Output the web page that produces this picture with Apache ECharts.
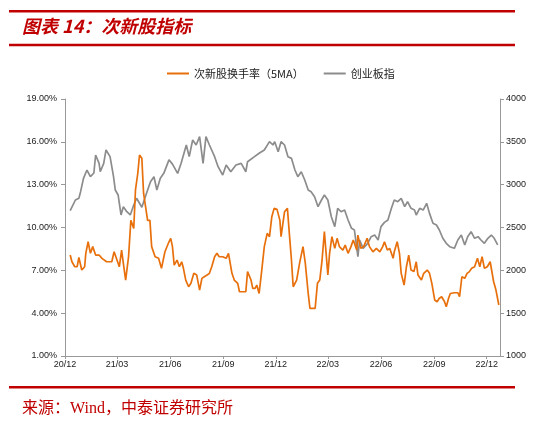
<!DOCTYPE html>
<html>
<head>
<meta charset="utf-8">
<script src="https://cdn.jsdelivr.net/npm/echarts@6/dist/echarts.min.js"></script>
<style>
html,body{margin:0;padding:0;background:#fff;}
#chart{width:550px;height:426px;}
</style>
</head>
<body>
<div id="chart"></div>
<script>
// ---- data ----
const seriesNames = ['次新股换手率（5MA）', '创业板指'];
const tickDates = ['2020/12/01','2021/03/01','2021/06/01','2021/09/01','2021/12/01','2022/03/01','2022/06/01','2022/09/01','2022/12/01'];
const tickLabels = ['20/12','21/03','21/06','21/09','21/12','22/03','22/06','22/09','22/12'];
const leftTicks = [1, 4, 7, 10, 13, 16, 19];
const rightTicks = [1000, 1500, 2000, 2500, 3000, 3500, 4000];

const turnoverDates = [
'2020-12-10','2020-12-13','2020-12-18','2020-12-22','2020-12-25','2020-12-28','2020-12-30',
'2021-01-04','2021-01-06','2021-01-10','2021-01-14','2021-01-18','2021-01-23','2021-01-29',
'2021-02-03','2021-02-11','2021-02-20','2021-02-24','2021-03-01','2021-03-05','2021-03-09',
'2021-03-12','2021-03-16','2021-03-21','2021-03-25','2021-03-30','2021-04-02','2021-04-06',
'2021-04-09','2021-04-13','2021-04-16','2021-04-19','2021-04-23','2021-04-27','2021-04-30',
'2021-05-06','2021-05-12','2021-05-17','2021-05-23','2021-05-30','2021-06-02','2021-06-05',
'2021-06-08','2021-06-13','2021-06-17','2021-06-21','2021-06-24','2021-06-28','2021-07-03',
'2021-07-07','2021-07-12','2021-07-17','2021-07-22','2021-07-26','2021-07-30','2021-08-04',
'2021-08-08','2021-08-12','2021-08-17','2021-08-21','2021-08-25','2021-08-31','2021-09-06',
'2021-09-10','2021-09-13','2021-09-16','2021-09-20','2021-09-26','2021-09-29','2021-10-04',
'2021-10-10','2021-10-13','2021-10-16','2021-10-19','2021-10-22','2021-10-26','2021-10-29',
'2021-11-02','2021-11-06','2021-11-11','2021-11-16','2021-11-20','2021-11-24','2021-11-28',
'2021-12-03','2021-12-05','2021-12-08','2021-12-10','2021-12-13','2021-12-16','2021-12-21',
'2021-12-25','2021-12-28','2021-12-31','2022-01-06','2022-01-11','2022-01-17','2022-01-21',
'2022-01-26','2022-01-29','2022-02-03','2022-02-07','2022-02-11','2022-02-15','2022-02-19',
'2022-02-23','2022-03-01','2022-03-04','2022-03-08','2022-03-13','2022-03-17','2022-03-21',
'2022-03-27','2022-03-31','2022-04-05','2022-04-10','2022-04-14','2022-04-20','2022-04-22',
'2022-04-27','2022-05-02','2022-05-08','2022-05-12','2022-05-18','2022-05-24','2022-05-30',
'2022-06-04','2022-06-07','2022-06-12','2022-06-16','2022-06-19','2022-06-22','2022-06-24',
'2022-06-29','2022-07-03','2022-07-06','2022-07-11','2022-07-15','2022-07-19','2022-07-23',
'2022-07-28','2022-08-01','2022-08-04','2022-08-10','2022-08-14','2022-08-20','2022-08-24',
'2022-08-28','2022-09-02','2022-09-06','2022-09-10','2022-09-14','2022-09-19','2022-09-22',
'2022-09-26','2022-09-29','2022-10-06','2022-10-12','2022-10-15','2022-10-19','2022-10-24',
'2022-10-28','2022-11-01','2022-11-05','2022-11-10','2022-11-15','2022-11-19','2022-11-23',
'2022-11-27','2022-12-02','2022-12-07','2022-12-10','2022-12-13','2022-12-17','2022-12-22'
];
const turnoverValues = [
8.07,7.60,7.25,7.25,7.90,7.95,7.02,
7.25,8.19,9.00,8.19,8.66,8.07,8.07,
7.84,7.60,7.60,8.30,7.72,7.25,8.42,
7.49,6.32,7.95,10.50,9.94,12.63,13.80,
15.08,14.85,12.40,11.58,10.50,10.50,8.66,
7.95,7.84,7.14,8.30,9.00,9.24,8.66,
7.37,7.72,7.25,7.60,7.14,6.32,5.85,
6.09,6.79,6.67,5.62,6.44,6.55,6.67,
6.79,7.25,7.95,8.19,7.95,7.95,7.84,
8.19,8.19,6.79,6.32,6.09,5.50,5.50,
5.50,6.91,7.02,6.32,5.74,5.74,5.97,
5.38,6.79,8.66,9.59,9.36,10.76,11.34,
11.27,11.27,10.50,9.36,9.24,11.10,11.34,
9.24,7.72,5.85,6.32,7.49,8.66,7.49,
5.38,4.34,4.34,4.34,6.09,6.32,7.72,
9.71,6.67,8.19,9.36,8.54,9.24,8.66,
8.42,8.77,8.19,8.66,9.12,8.42,9.47,
8.54,8.66,9.24,8.66,8.30,8.54,8.30,
8.66,9.00,8.42,8.54,8.66,7.84,8.30,
9.00,8.19,6.79,5.97,7.25,8.07,7.02,
6.91,7.60,6.67,6.32,6.79,7.02,6.79,
6.09,4.92,4.80,5.04,5.15,4.80,4.45,
5.04,5.38,5.43,5.43,5.15,6.55,6.44,
6.79,6.91,7.14,7.25,7.84,7.25,7.95,
7.14,7.25,7.60,7.49,6.20,5.62,4.57
];

const gemDates = [
'2020-12-10','2020-12-19','2020-12-25','2020-12-28','2021-01-02','2021-01-08','2021-01-14',
'2021-01-20','2021-01-23','2021-01-29','2021-01-31','2021-02-06','2021-02-10','2021-02-17',
'2021-02-23','2021-02-26','2021-03-03','2021-03-08','2021-03-12','2021-03-18','2021-03-24',
'2021-03-30','2021-04-04','2021-04-13','2021-04-22','2021-04-28','2021-05-04','2021-05-09',
'2021-05-15','2021-05-21','2021-05-30','2021-06-05','2021-06-14','2021-06-20','2021-06-29',
'2021-07-04','2021-07-10','2021-07-16','2021-07-22','2021-07-28','2021-08-02','2021-08-08',
'2021-08-17','2021-08-23','2021-08-31','2021-09-06','2021-09-14','2021-09-23','2021-10-02',
'2021-10-10','2021-10-13','2021-10-25','2021-11-02','2021-11-11','2021-11-20','2021-11-26',
'2021-11-29','2021-12-05','2021-12-10','2021-12-16','2021-12-22','2021-12-28','2022-01-03',
'2022-01-08','2022-01-14','2022-01-20','2022-01-26','2022-01-31','2022-02-06','2022-02-12',
'2022-02-18','2022-02-23','2022-03-01','2022-03-07','2022-03-13','2022-03-18','2022-03-24',
'2022-03-30','2022-04-05','2022-04-11','2022-04-16','2022-04-22','2022-04-25','2022-05-01',
'2022-05-09','2022-05-15','2022-05-21','2022-05-27','2022-06-01','2022-06-07','2022-06-13',
'2022-06-19','2022-06-24','2022-06-30','2022-07-06','2022-07-12','2022-07-17','2022-07-23',
'2022-07-29','2022-08-01','2022-08-07','2022-08-13','2022-08-19','2022-08-24','2022-08-30',
'2022-09-05','2022-09-10','2022-09-16','2022-09-22','2022-09-28','2022-10-06','2022-10-12',
'2022-10-18','2022-10-24','2022-10-29','2022-11-04','2022-11-10','2022-11-16','2022-11-21',
'2022-11-27','2022-12-03','2022-12-09','2022-12-14','2022-12-20'
];
const gemValues = [
2696,2821,2841,2918,3074,3171,3093,
3136,3346,3249,3151,3249,3405,3327,
3093,2938,2879,2646,2743,2684,2646,
2763,2841,2736,2918,3035,3093,2938,
3074,3132,3290,3240,3132,3249,3463,
3327,3521,3463,3560,3249,3560,3463,
3327,3210,3113,3230,3151,3230,3249,
3151,3268,3327,3366,3405,3502,3463,
3502,3385,3502,3463,3327,3307,3171,
3093,3151,3054,2938,2918,2860,2743,
2821,2879,2821,2626,2510,2724,2684,
2704,2588,2490,2471,2159,2354,2257,
2315,2393,2412,2354,2510,2560,2588,
2724,2821,2801,2840,2743,2801,2724,
2704,2646,2724,2704,2782,2665,2549,
2529,2471,2374,2315,2276,2257,2354,
2412,2296,2393,2451,2374,2393,2354,
2315,2374,2412,2374,2296
];

// ---- chart ----
const red = '#C00000';
const orange = '#E8700C';
const gray = '#8C8C8C';
const toTs = s => new Date(s.replace(/-/g, '/')).getTime();
const pair = (ds, vs) => ds.map((d, i) => [toTs(d), vs[i]]);
const tickTs = tickDates.map(toTs);

const chart = echarts.init(document.getElementById('chart'), null, {renderer: 'canvas'});
const axisFont = {fontFamily: 'Liberation Sans, Arial, sans-serif', fontSize: 9, color: '#222'};

chart.setOption({
  animation: false,
  backgroundColor: '#fff',
  grid: {left: 65, right: 50, top: 99, bottom: 70, containLabel: false},
  legend: {
    top: 63, left: 162,
    itemWidth: 22, itemHeight: 2, itemGap: 20,
    icon: 'rect',
    textStyle: {fontFamily: 'Noto Sans CJK SC, sans-serif', fontSize: 11, color: '#222'},
    data: seriesNames
  },
  xAxis: {
    type: 'value',
    min: toTs('2020/12/01'),
    max: toTs('2022/12/24'),
    splitLine: {show: false},
    axisLine: {lineStyle: {color: '#999', width: 1}},
    axisTick: {show: true, length: 3, lineStyle: {color: '#999'}, customValues: tickTs},
    axisLabel: Object.assign({}, axisFont, {
      margin: 4, showMinLabel: true, showMaxLabel: true, hideOverlap: false,
      customValues: tickTs,
      formatter: function (v) {
        let best = 0;
        for (let i = 0; i < tickTs.length; i++) if (Math.abs(tickTs[i] - v) < Math.abs(tickTs[best] - v)) best = i;
        return tickLabels[best];
      }
    })
  },
  yAxis: [
    {
      type: 'value', min: leftTicks[0], max: leftTicks[leftTicks.length - 1], interval: 3,
      position: 'left',
      splitLine: {show: false},
      axisLine: {show: true, lineStyle: {color: '#999', width: 1}},
      axisTick: {show: true, length: 4, lineStyle: {color: '#999'}},
      axisLabel: Object.assign({}, axisFont, {margin: 8, formatter: v => v.toFixed(2) + '%'})
    },
    {
      type: 'value', min: rightTicks[0], max: rightTicks[rightTicks.length - 1], interval: 500,
      position: 'right',
      splitLine: {show: false},
      axisLine: {show: true, lineStyle: {color: '#999', width: 1}},
      axisTick: {show: true, length: 4, lineStyle: {color: '#999'}},
      axisLabel: Object.assign({}, axisFont, {margin: 6, formatter: v => String(v)})
    }
  ],
  series: [
    {
      name: seriesNames[0], type: 'line', yAxisIndex: 0, showSymbol: false, symbol: 'none',
      color: orange, lineStyle: {color: orange, width: 1.7}, z: 3,
      data: pair(turnoverDates, turnoverValues)
    },
    {
      name: seriesNames[1], type: 'line', yAxisIndex: 1, showSymbol: false, symbol: 'none',
      color: gray, lineStyle: {color: gray, width: 1.7}, z: 2,
      data: pair(gemDates, gemValues)
    }
  ],
  graphic: [
    {type: 'rect', shape: {x: 9, y: 10, width: 506, height: 2.5}, style: {fill: red}, silent: true},
    {type: 'rect', shape: {x: 9, y: 43.8, width: 506, height: 2.5}, style: {fill: red}, silent: true},
    {type: 'text', left: 22, top: 17, style: {
      text: '图表 14：次新股指标', fill: red,
      font: 'italic bold 18px "Noto Sans CJK SC", sans-serif'
    }, silent: true},
    {type: 'rect', shape: {x: 9, y: 386, width: 506, height: 2.5}, style: {fill: red}, silent: true},
    {type: 'text', left: 22, top: 401, style: {
      text: '来源：Wind，中泰证券研究所', fill: red,
      font: '16px "Liberation Serif", "Noto Sans CJK SC", serif'
    }, silent: true}
  ]
});
</script>
</body>
</html>
